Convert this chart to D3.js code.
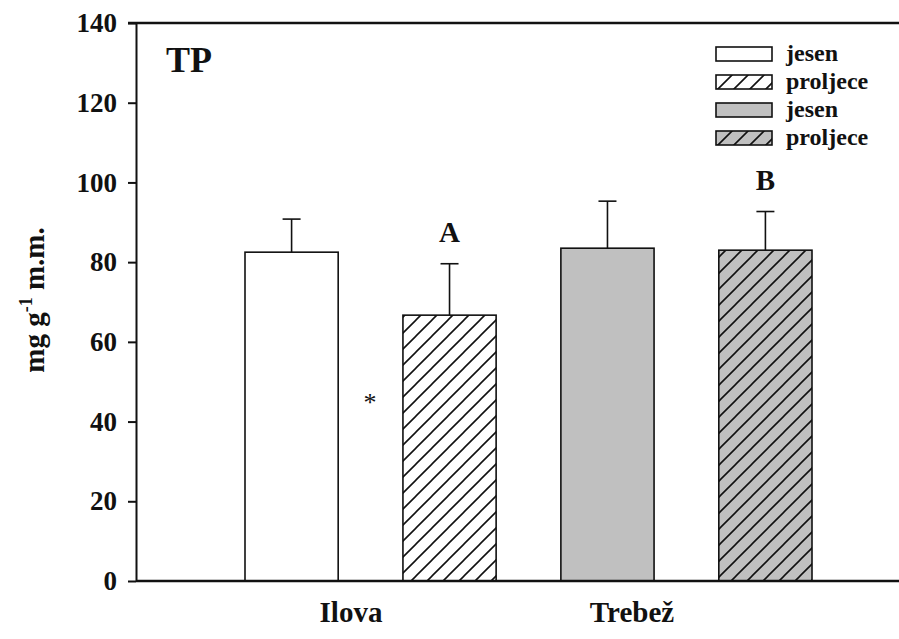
<!DOCTYPE html>
<html>
<head>
<meta charset="utf-8">
<script src="https://cdn.jsdelivr.net/npm/d3@7"></script>
<style>
  body { margin: 0; background: #fff; }
  text { font-family: "Liberation Serif", "Times New Roman", serif; font-weight: bold; fill: #111; }
</style>
</head>
<body>
<div id="graphic"></div>
<script>
// data
const sites = ["Ilova", "Trebež"]
const barKeys = ["Ilova jesen", "Ilova proljece", "Trebež jesen", "Trebež proljece"]
const means = [82.5, 66.7, 83.5, 83.0]
const errors = [8.3, 12.9, 11.8, 9.7]
const fills = ["#ffffff", "#ffffff", "#c0c0c0", "#c0c0c0"]
const hatched = [false, true, false, true]
const barLetters = ["", "A", "", "B"]
const legendLabels = ["jesen", "proljece", "jesen", "proljece"]
const yTicks = [0, 20, 40, 60, 80, 100, 120, 140]

const width = 899, height = 639
const margin = { top: 23, right: 0, bottom: 58, left: 136 }

const svg = d3.select("#graphic")
    .append("svg")
    .attr("width", width)
    .attr("height", height)

const defs = svg.append("defs")
const hatch = (id, bg) => {
    const p = defs.append("pattern")
        .attr("id", id)
        .attr("patternUnits", "userSpaceOnUse")
        .attr("width", 16)
        .attr("height", 16)
    p.append("rect").attr("width", 16).attr("height", 16).attr("fill", bg)
    p.append("path")
        .attr("d", "M-4,4 L4,-4 M0,16 L16,0 M12,20 L20,12")
        .attr("stroke", "#111")
        .attr("stroke-width", 1.6)
}
hatch("hatchWhite", "#ffffff")
hatch("hatchGrey", "#c0c0c0")
const barFill = i => hatched[i] ? (fills[i] === "#ffffff" ? "url(#hatchWhite)" : "url(#hatchGrey)") : fills[i]

const y = d3.scaleLinear()
    .domain([0, 140])
    .range([height - margin.bottom, margin.top])

const x = d3.scaleBand()
    .domain(barKeys)
    .range([245, 812])
    .paddingInner(0.41)
    .paddingOuter(0)

// bars
svg.append("g")
    .selectAll("rect")
    .data(barKeys)
    .join("rect")
    .attr("x", d => x(d))
    .attr("y", (d, i) => y(means[i]))
    .attr("width", x.bandwidth())
    .attr("height", (d, i) => y(0) - y(means[i]))
    .attr("fill", (d, i) => barFill(i))
    .attr("stroke", "#111")
    .attr("stroke-width", 1.6)

// error bars (upper only)
const err = svg.append("g").attr("stroke", "#111").attr("stroke-width", 1.6)
barKeys.forEach((k, i) => {
    const cx = x(k) + x.bandwidth() / 2
    err.append("line")
        .attr("x1", cx).attr("x2", cx)
        .attr("y1", y(means[i])).attr("y2", y(means[i] + errors[i]))
    err.append("line")
        .attr("x1", cx - 9).attr("x2", cx + 9)
        .attr("y1", y(means[i] + errors[i])).attr("y2", y(means[i] + errors[i]))
})

// letters above bars
svg.append("g")
    .selectAll("text")
    .data(barKeys)
    .join("text")
    .attr("x", d => x(d) + x.bandwidth() / 2)
    .attr("y", (d, i) => y(means[i] + errors[i]) - 22)
    .attr("text-anchor", "middle")
    .attr("font-size", 29)
    .text((d, i) => barLetters[i])

// asterisk between Ilova bars
svg.append("text")
    .attr("x", 370)
    .attr("y", 411)
    .attr("text-anchor", "middle")
    .attr("font-size", 26)
    .style("font-weight", "normal")
    .text("*")

// y axis
const yAxis = svg.append("g")
    .attr("transform", `translate(${margin.left},0)`)
    .call(d3.axisLeft(y).tickValues(yTicks).tickSize(8).tickPadding(11).tickSizeOuter(0))
yAxis.select(".domain").attr("stroke", "#111").attr("stroke-width", 2)
yAxis.selectAll(".tick line").attr("stroke", "#111").attr("stroke-width", 2)
yAxis.selectAll(".tick text")
    .attr("font-size", 27)
    .attr("fill", "#111")
    .attr("font-family", "Liberation Serif, serif")
    .attr("font-weight", "bold")

// x axis line and top line
svg.append("line")
    .attr("x1", margin.left).attr("x2", width)
    .attr("y1", y(0)).attr("y2", y(0))
    .attr("stroke", "#111").attr("stroke-width", 2.5)
svg.append("line")
    .attr("x1", margin.left - 8).attr("x2", width)
    .attr("y1", y(140)).attr("y2", y(140))
    .attr("stroke", "#111").attr("stroke-width", 2.5)

// site labels
const siteX = [351, 632]
svg.append("g")
    .selectAll("text")
    .data(sites)
    .join("text")
    .attr("x", (d, i) => siteX[i])
    .attr("y", 622)
    .attr("text-anchor", "middle")
    .attr("font-size", 29)
    .text(d => d)

// y label
const yl = svg.append("text")
    .attr("transform", "translate(44,300) rotate(-90)")
    .attr("text-anchor", "middle")
    .attr("font-size", 29)
yl.append("tspan").text("mg g")
yl.append("tspan").attr("dy", -12).attr("font-size", 18).text("-1")
yl.append("tspan").attr("dy", 12).text(" m.m.")

// panel title
svg.append("text")
    .attr("x", 166)
    .attr("y", 72)
    .attr("font-size", 36)
    .text("TP")

// legend
const legend = svg.append("g").attr("transform", "translate(716,47)")
legendLabels.forEach((lab, i) => {
    const row = legend.append("g").attr("transform", `translate(0,${i * 28})`)
    row.append("rect")
        .attr("width", 56).attr("height", 14)
        .attr("fill", barFill(i))
        .attr("stroke", "#111").attr("stroke-width", 1.6)
    row.append("text")
        .attr("x", 70).attr("y", 14)
        .attr("font-size", 24)
        .text(lab)
})
</script>
</body>
</html>
